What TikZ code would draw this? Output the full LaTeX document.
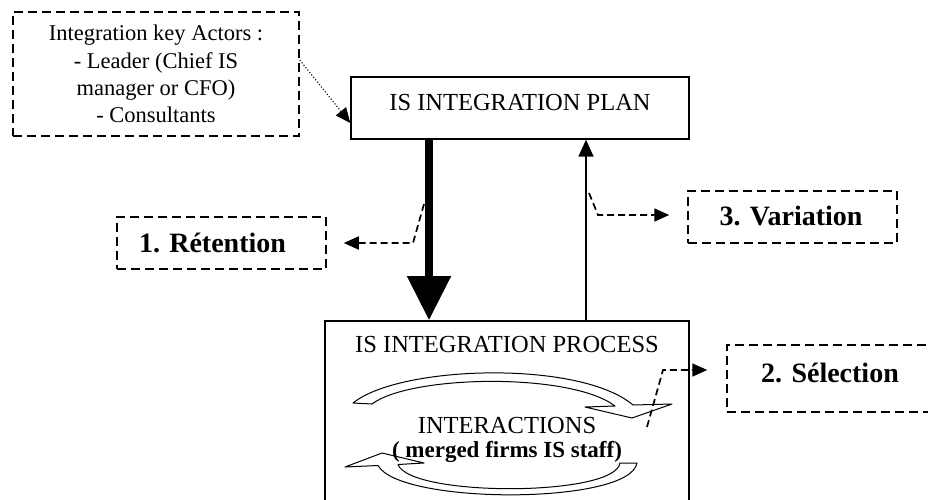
\documentclass[tikz,border=0pt]{standalone}
\usepackage{fontspec}
\setmainfont{Liberation Serif}
\usetikzlibrary{arrows.meta,calc}
\begin{document}
\begin{tikzpicture}[x=1pt,y=-1pt,
  dbox/.style={draw, line width=1.5pt, dash pattern=on 9pt off 5pt, inner sep=0pt, align=center},
  sbox/.style={draw, line width=1.4pt, inner sep=0pt, align=center},
  dconn/.style={line width=1.7pt, dash pattern=on 7pt off 4pt, -{Triangle[width=13pt,length=15pt]}},
  band/.style={draw, line width=1pt, fill=white, line join=round},
  lbl/.style={font=\fontsize{28}{33}\selectfont\bfseries},
  captxt/.style={font=\fontsize{24.5}{29}\selectfont}]
\clip (0,0) rectangle (928,499);
\fill[white] (0,0) rectangle (928,499);

% boxes
\node[dbox, minimum width=286pt, minimum height=124pt, font=\fontsize{22.5}{27.3}\selectfont] (actors) at (156,74)
  {Integration key Actors :\\- Leader (Chief IS\\manager or CFO)\\- Consultants};
\node[sbox, minimum width=338pt, minimum height=62pt] (plan) at (520,108) {};
\node[captxt] (plantxt) at (520,103) {IS INTEGRATION PLAN};
\node[sbox, line width=1.6pt, minimum width=364pt, minimum height=200pt] (proc) at (507,421) {};
\node[dbox, minimum width=209pt, minimum height=52pt] (ret) at (221.5,243) {};
\node[lbl] (rettxt) at (212.5,243) {1. Rétention};
\node[dbox, minimum width=209pt, minimum height=52pt] (var) at (792.5,217) {};
\node[lbl] (vartxt) at (791,216) {3. Variation};
\node[dbox, minimum width=206pt, minimum height=67pt] (sel) at (830,378.5) {};
\node[lbl] (seltxt) at (830,373) {2. Sélection};

% main arrows
\coordinate (tx) at (429,0);
\coordinate (ux) at (586,0);
\draw[line width=8pt, -{Triangle[width=42pt,length=44pt]}] (tx |- plan.south) -- (tx |- proc.north);
\draw[line width=1.6pt, -{Triangle[width=15pt,length=17pt]}] (ux |- proc.north) -- (ux |- plan.south);

% actors -> plan
\coordinate (a0) at (actors.east |- 0,60);
\coordinate (a1) at (plan.west |- 0,123);
\draw[dotted, line width=1.1pt, -{Triangle[width=13pt,length=15pt]}] (a0) -- (a1);

% dashed feedback connectors
\coordinate (r0) at (424,204);
\coordinate (r1) at (413,243);
\coordinate (r2) at ($(ret.east)+(17,0)$);
\draw[dconn] (r0) -- (r1) -- (r2);

\coordinate (v0) at (589,193);
\coordinate (v1) at (598,215);
\coordinate (v2) at ($(var.west |- 0,215)+(-18,0)$);
\draw[dconn] (v0) -- (v1) -- (v2);

% circular arrows
\draw[band] (353,403) .. controls (400,365) and (580,360) .. (633,405) -- (672,404) -- (632,418) -- (585,407) -- (615,406)
  .. controls (570,372) and (410,375) .. (372,404) -- cycle;
\draw[band] (637,463) .. controls (630,505) and (400,505) .. (378,465.5) -- (345,467) -- (382,453) -- (424,463) -- (398,464.5)
  .. controls (410,497) and (615,497) .. (620,463) -- cycle;

\coordinate (s0) at (647,427);
\coordinate (s1) at (663,370);
\coordinate (s2) at ($(sel.west |- 0,370)+(-19,0)$);
\draw[dconn] (s0) -- (s1) -- (s2);

% process texts
\node[captxt] (proctxt) at (507,344) {IS INTEGRATION PROCESS};
\node[captxt] (inter) at (507,425) {INTERACTIONS};
\node[font=\fontsize{23}{27}\selectfont\bfseries] (staff) at (507,452) {( merged firms IS staff)};
\end{tikzpicture}
\end{document}
